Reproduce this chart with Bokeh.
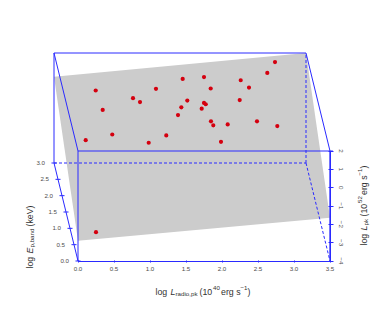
from bokeh.plotting import figure
from bokeh.embed import file_html
from bokeh.resources import INLINE
from bokeh.models import FixedTicker, LinearAxis, Label, Range1d

# scatter points, projected position read in units of the front face (log L_radio, log L_pk)
point_x = [0.246, 0.343, 0.107, 0.476, 0.764, 0.861, 0.982, 1.226, 1.083, 1.454,
           1.518, 1.435, 1.389, 2.736, 2.629, 1.750, 2.260, 2.375, 1.843, 2.246,
           1.750, 1.774, 1.718, 1.847, 1.879, 2.079, 2.486, 2.768, 1.986, 0.250]
point_y = [5.30, 4.24, 2.59, 2.90, 4.88, 4.67, 2.45, 2.85, 5.39, 5.93,
           4.75, 4.38, 3.96, 6.85, 6.26, 6.03, 5.86, 5.46, 5.41, 4.78,
           4.62, 4.55, 4.31, 3.62, 3.40, 3.45, 3.62, 3.36, 2.50, -2.43]

# fitted plane corners (log L_radio, log E_p, log L_pk)
plane_x = [0.0, 3.5, 3.5, 0.0]
plane_e = [3.0, 3.0, 0.0, 0.0]
plane_z = [0.71, 2.0, -1.64, -2.9]

x_ticks = [0.0, 0.5, 1.0, 1.5, 2.0, 2.5, 3.0, 3.5]
x_labels = ["0.0", "0.5", "1.0", "1.5", "2.0", "2.5", "3.0", "3.5"]
z_ticks = [-4, -3, -2, -1, 0, 1, 2]
z_labels = ["\u22124", "\u22123", "\u22122", "\u22121", "0", "1", "2"]
e_ticks = [0.0, 0.5, 1.0, 1.5, 2.0, 2.5, 3.0]
e_labels = ["0.0", "0.5", "1.0", "1.5", "2.0", "2.5", "3.0"]

X0, X1, Z0, Z1, E0, E1 = 0.0, 3.5, -4.0, 2.0, 0.0, 3.0
SX = 72.0            # pixels per unit of log L_radio
SZ = 110.0 / 6.0     # pixels per unit of log L_pk
DEPTH_X = -24 / SX / 3.0   # shift of x per unit of E
DEPTH_Y = 98 / SZ / 3.0    # shift of y per unit of E


def px(x, e):
    return x + e * DEPTH_X


def py(z, e):
    return z + e * DEPTH_Y


W, H = 372, 320
p = figure(width=W, height=H, output_backend="svg", toolbar_location=None,
           x_range=Range1d(-77.5 / SX, (W - 77.5) / SX),
           y_range=Range1d(-4 - (H - 260.5) / SZ, -4 + 260.5 / SZ),
           min_border=0, x_axis_type=None, y_axis_type=None,
           background_fill_color="white", border_fill_color="white")
p.outline_line_color = None
p.grid.visible = False

BLUE = "#2a2aff"
GREY = "#4d4d4d"

p.patch([px(x, e) for x, e in zip(plane_x, plane_e)],
        [py(z, e) for z, e in zip(plane_z, plane_e)],
        fill_color="#cccccc", line_color=None)


def seg(a, b, dash="solid", width=1.0):
    p.line([px(a[0], a[2]), px(b[0], b[2])], [py(a[1], a[2]), py(b[1], b[2])],
           line_color=BLUE, line_width=width, line_dash=dash)


# box edges: (x, z, e)
seg((X0, Z1, E1), (X1, Z1, E1))
seg((X0, Z0, E1), (X0, Z1, E1))
seg((X0, Z1, E1), (X0, Z1, E0))
seg((X1, Z1, E1), (X1, Z1, E0))
seg((X0, Z1, E0), (X1 + 0.04, Z1, E0))
seg((X0, Z0, E0), (X0, Z1, E0))
seg((X1, Z0, E0), (X1, Z1, E0), width=1.3)
seg((X0, Z0, E0), (X0, Z0, E1))
seg((X0, Z0, E1), (X1, Z0, E1), "3 2")
seg((X1, Z0, E1), (X1, Z1, E1), "3 2")
seg((X1, Z0, E1), (X1, Z0, E0), "3 2")

# depth axis ticks
p.segment([px(X0, e) - 0.035 for e in e_ticks], [py(Z0, e) for e in e_ticks],
          [px(X0, e) + 0.035 for e in e_ticks], [py(Z0, e) for e in e_ticks],
          line_color=BLUE, line_width=1)
p.text([px(X0, e) - 0.125 for e in e_ticks], [py(Z0, e) for e in e_ticks], text=e_labels,
       text_font_size="6.2px", text_color=GREY, text_align="right", text_baseline="middle",
       text_font={"value": "Liberation Sans"})

p.scatter(point_x, point_y, size=4.2, marker="circle", fill_color="#d4000f", line_color=None)

xa = LinearAxis(fixed_location=Z0, ticker=FixedTicker(ticks=x_ticks),
                major_label_overrides=dict(zip(x_ticks, x_labels)), bounds=(X0, X1))
xa.axis_line_color = BLUE
xa.axis_line_width = 1
xa.major_tick_line_color = BLUE
xa.major_tick_in = 1
xa.major_tick_out = 1
xa.minor_tick_line_color = None
xa.major_label_text_font = "Liberation Sans"
xa.major_label_text_font_size = "6.2px"
xa.major_label_text_color = GREY
xa.major_label_standoff = 5
p.add_layout(xa, "below")

za = LinearAxis(fixed_location=X1, ticker=FixedTicker(ticks=z_ticks),
                major_label_overrides=dict(zip(z_ticks, z_labels)), bounds=(Z0, Z1),
                major_label_orientation="vertical")
za.axis_line_color = BLUE
za.axis_line_width = 1
za.major_tick_line_color = BLUE
za.major_tick_in = 2
za.major_tick_out = 3
za.minor_tick_line_color = None
za.major_label_text_font = "Liberation Sans"
za.major_label_text_font_size = "6.2px"
za.major_label_text_color = GREY
za.major_label_standoff = 6
p.add_layout(za, "right")


def lab(text, x, y, size=8.8, angle=0, style="normal"):
    """x, y are picture pixels of the text's baseline start."""
    p.add_layout(Label(x=x, y=H - y, x_units="screen", y_units="screen",
                       text=text, text_font="Liberation Sans", text_font_size=f"{size}px",
                       text_color="#333333", text_font_style=style, angle=angle,
                       angle_units="deg", text_baseline="alphabetic", text_align="left"))


# bottom title
bx, by = 155, 291
for t, dx, dy, s, st in [("log", 0, 0, 8.8, "normal"), ("L", 15, 0, 8.8, "italic"),
                         ("radio,pk", 20, 2, 6.2, "normal"), ("(10", 44, 0, 8.8, "normal"),
                         ("40", 57.5, -3.5, 6.2, "normal"), ("erg s", 65.5, 0, 8.8, "normal"),
                         ("\u22121", 85, -3.5, 6.2, "normal"), (")", 92, 0, 8.8, "normal")]:
    lab(t, bx + dx, by + dy, s, 0, st)

# left title, rotated
lx, ly = 29, 268
for t, dy, dx, s, st in [("log", 0, 0, 8.8, "normal"), ("E", 15, 0, 8.8, "italic"),
                         ("p,band", 21, 2, 6.2, "normal"), ("(keV)", 42, 0, 8.8, "normal")]:
    lab(t, lx + dx, ly - dy, s, 90, st)

# right title, rotated
rx, ry = 363, 245
for t, dy, dx, s, st in [("log", 0, 0, 8.8, "normal"), ("L", 15, 0, 8.8, "italic"),
                         ("pk", 20, 2, 6.2, "normal"), ("(10", 29, 0, 8.8, "normal"),
                         ("52", 42.5, -3.5, 6.2, "normal"), ("erg s", 50.5, 0, 8.8, "normal"),
                         ("\u22121", 70, -3.5, 6.2, "normal"), (")", 77, 0, 8.8, "normal")]:
    lab(t, rx + dx, ry - dy, s, 90, st)

open("out.html", "w").write(file_html(p, INLINE))
